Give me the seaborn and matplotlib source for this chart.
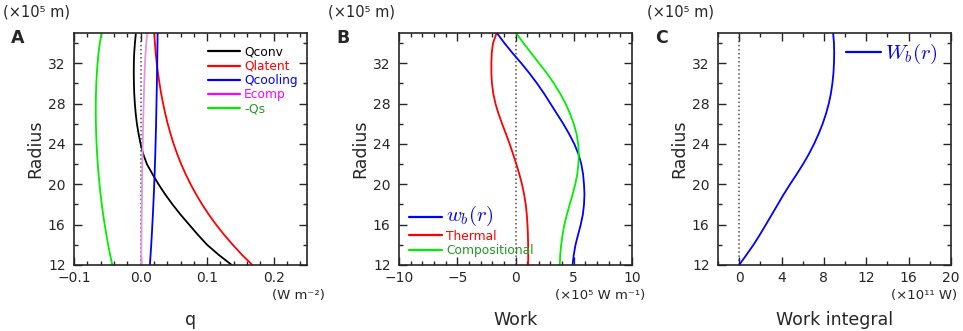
import pandas as pd
import seaborn as sns
import matplotlib.pyplot as plt
from matplotlib.lines import Line2D
from matplotlib.ticker import MultipleLocator, FuncFormatter

# radius (x10^5 m)
radius = [12, 13, 14, 15, 16, 17, 18, 19, 20, 21, 22, 23, 24,
          25, 26, 27, 28, 29, 30, 31, 32, 33, 34, 35]

# --- panel A: heat fluxes (W m^-2) ---
q_conv = [0.137, 0.1175, 0.100, 0.086, 0.073, 0.060, 0.048, 0.037, 0.027, 0.018, 0.0095, 0.0040, 0.000,
          -0.003, -0.0055, -0.0073, -0.0086, -0.0095, -0.010, -0.0102, -0.0101, -0.0096, -0.0085, -0.007]
q_latent = [0.168, 0.1525, 0.1385, 0.1255, 0.1135, 0.1025, 0.0925, 0.0835, 0.0752, 0.0677, 0.061, 0.055, 0.0497,
            0.045, 0.0408, 0.0371, 0.0338, 0.0309, 0.0284, 0.0262, 0.0243, 0.0227, 0.0215, 0.0206]
q_cooling = [0.014, 0.015, 0.016, 0.0169, 0.0177, 0.0185, 0.0192, 0.0199, 0.0205, 0.0211, 0.0216, 0.0221, 0.0225,
             0.0229, 0.0233, 0.0236, 0.0239, 0.0242, 0.0245, 0.0247, 0.025, 0.0252, 0.0254, 0.0256]
e_comp = [0.001, 0.0011, 0.0012, 0.0014, 0.0015, 0.0017, 0.0019, 0.0021, 0.0023, 0.0025, 0.0027, 0.003, 0.0032,
          0.0035, 0.0038, 0.0042, 0.0046, 0.005, 0.0055, 0.0061, 0.0067, 0.0075, 0.0086, 0.010]
minus_qs = [-0.0425, -0.0457, -0.0487, -0.0514, -0.0539, -0.0562, -0.0583, -0.0601, -0.0617, -0.0631, -0.0643,
            -0.0653, -0.0661, -0.0667, -0.0671, -0.0673, -0.0673, -0.067, -0.0665, -0.0657, -0.0646, -0.0632,
            -0.0612, -0.0585]

# --- panel B: work (x10^5 W m^-1) ---
w_thermal = [1.09, 1.09, 1.085, 1.065, 1.03, 0.97, 0.88, 0.74, 0.56, 0.33, 0.07, -0.21, -0.50,
             -0.82, -1.15, -1.46, -1.72, -1.91, -2.02, -2.07, -2.07, -2.04, -1.93, -1.62]
w_comp = [3.80, 3.84, 3.92, 4.04, 4.20, 4.41, 4.65, 4.90, 5.13, 5.30, 5.40, 5.43, 5.38,
          5.24, 5.00, 4.68, 4.30, 3.83, 3.30, 2.70, 2.02, 1.35, 0.68, 0.05]
w_b = [4.90, 5.00, 5.15, 5.37, 5.60, 5.78, 5.88, 5.92, 5.88, 5.80, 5.65, 5.40, 5.05,
       4.60, 4.10, 3.55, 3.00, 2.45, 1.85, 1.20, 0.50, -0.25, -0.95, -1.60]

# --- panel C: work integral (x10^11 W) ---
W_b = [0.0, 0.68, 1.35, 1.95, 2.52, 3.08, 3.64, 4.20, 4.80, 5.43, 6.03, 6.58, 7.07,
       7.50, 7.88, 8.20, 8.46, 8.66, 8.80, 8.90, 8.95, 8.97, 8.95, 8.87]

sns.set_style("ticks")
plt.rcParams['font.family'] = ['DejaVu Sans']
plt.rcParams['mathtext.fontset'] = 'cm'

fig = plt.figure(figsize=(9.63, 3.31), dpi=100)
W, H = 963, 331
lefts = [74, 399, 718]
ax_w, ax_top, ax_bot = 233, 33, 265
axes = [fig.add_axes([l / W, 1 - ax_bot / H, ax_w / W, (ax_bot - ax_top) / H]) for l in lefts]


def draw(ax, xs, color, lw=1.3):
    df = pd.DataFrame({'x': xs, 'r': radius})
    sns.lineplot(data=df, x='x', y='r', orient='y', estimator=None, color=color, lw=lw, ax=ax)


def style(ax, xlim, xmaj, xmin, xlabel, unit, unit_right, letter):
    ax.set_ylim(12, 35)
    ax.set_xlim(*xlim)
    ax.yaxis.set_major_locator(MultipleLocator(4))
    ax.yaxis.set_minor_locator(MultipleLocator(2))
    ax.xaxis.set_major_locator(MultipleLocator(xmaj))
    ax.xaxis.set_minor_locator(MultipleLocator(xmin))
    ax.tick_params(which='both', direction='in', top=True, right=True, labelsize=10, width=1)
    ax.tick_params(axis='x', pad=4)
    ax.tick_params(axis='y', pad=6)
    ax.tick_params(which='major', length=6)
    ax.tick_params(which='minor', length=3)
    for s in ax.spines.values():
        s.set_linewidth(1.2)
    ax.set_xlabel('')
    ax.set_ylabel('Radius', fontsize=12.5, labelpad=3)
    ax.axvline(0, ls=':', color='0.3', lw=1.1, zorder=0)
    x0 = ax.get_position().x0 * W
    x1 = ax.get_position().x1 * W
    fig.text((x0 + x1) / 2 / W, 1 - 320 / H, xlabel, ha='center', va='center', fontsize=12.5)
    fig.text(unit_right / W, 1 - 295 / H, unit, ha='right', va='center', fontsize=9.5)
    fig.text((x0 - 71) / W, 1 - 12 / H, '(×10⁵ m)', ha='left', va='center', fontsize=10.5)
    fig.text((x0 - 63) / W, 1 - 38 / H, letter, ha='left', va='center', fontsize=12.5, fontweight='bold')


# panel A
axA = axes[0]
for xs, c in zip([q_conv, q_latent, q_cooling, e_comp, minus_qs],
                 ['black', 'red', 'blue', '#dd99dd', '#00ee00']):
    draw(axA, xs, c)
style(axA, (-0.1, 0.25), 0.1, 0.02, 'q', '(W m⁻²)', 325, 'A')
axA.xaxis.set_major_formatter(FuncFormatter(lambda v, p: f'{v:.1f}'.replace('-', '\u2212')))
handlesA = [Line2D([], [], color=c, lw=1.6) for c in ['black', 'red', 'blue', 'magenta', '#00ee00']]
legA = axA.legend(handlesA, ['Qconv', 'Qlatent', 'Qcooling', 'Ecomp', '-Qs'], loc='upper left',
                  bbox_to_anchor=(0.575, 0.945), frameon=False, fontsize=8.8, handlelength=2.6,
                  handletextpad=0.35, labelspacing=0.1, borderaxespad=0, borderpad=0)
for t, c in zip(legA.get_texts(), ['black', 'red', 'blue', 'magenta', '#229922']):
    t.set_color(c)

# panel B
axB = axes[1]
for xs, c in zip([w_b, w_thermal, w_comp], ['blue', 'red', '#00ee00']):
    draw(axB, xs, c)
style(axB, (-10, 10), 5, 1, 'Work', '(×10⁵ W m⁻¹)', 645, 'B')
handlesB = [Line2D([], [], color=c, lw=1.6) for c in ['blue', 'red', '#00ee00']]
legB = axB.legend(handlesB, [r'$w_b(r)$', 'Thermal', 'Compositional'], loc='lower left',
                  bbox_to_anchor=(0.045, 0.035), frameon=False, fontsize=8.8, handlelength=2.7,
                  handletextpad=0.3, labelspacing=0.1, borderaxespad=0, borderpad=0)
for t, c, fs in zip(legB.get_texts(), ['blue', 'red', '#229922'], [15, 8.8, 8.8]):
    t.set_color(c)
    t.set_fontsize(fs)

# panel C
axC = axes[2]
draw(axC, W_b, 'blue')
style(axC, (-2, 20), 4, 2, 'Work integral', '(×10¹¹ W)', 957, 'C')
legC = axC.legend([Line2D([], [], color='blue', lw=1.6)], [r'$W_b(r)$'], loc='upper right',
                  bbox_to_anchor=(0.945, 0.96), frameon=False, fontsize=15, handlelength=1.7,
                  handletextpad=0.2, borderaxespad=0, borderpad=0)
legC.get_texts()[0].set_color('blue')

fig.savefig('out.png', dpi=100)
